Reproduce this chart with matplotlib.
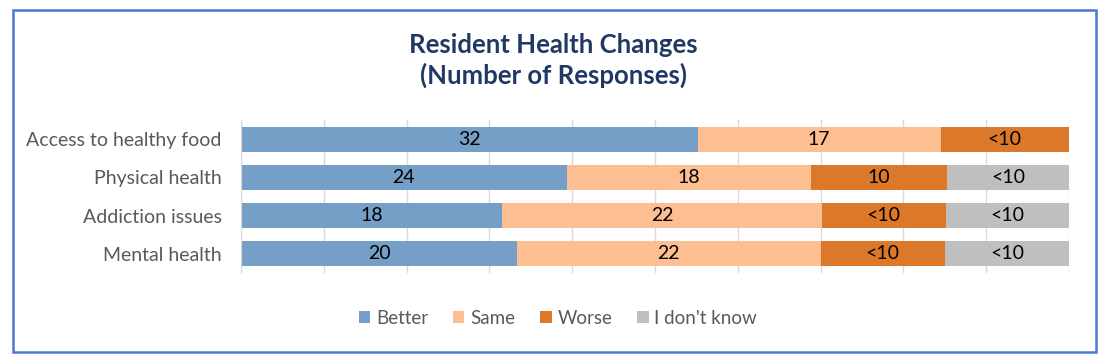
import matplotlib
matplotlib.use("Agg")
import matplotlib.pyplot as plt
from matplotlib.patches import Patch, Rectangle
import numpy as np

categories = ["Access to healthy food", "Physical health", "Addiction issues", "Mental health"]
series_names = ["Better", "Same", "Worse", "I don't know"]
better = [32, 24, 18, 20]
same = [17, 18, 22, 22]
worse = [9, 10, 8.5, 9]
dont_know = [0, 9, 8.5, 9]
# Labels as shown on the chart (small counts are suppressed as "<10")
better_labels = ["32", "24", "18", "20"]
same_labels = ["17", "18", "22", "22"]
worse_labels = ["<10", "10", "<10", "<10"]
dont_know_labels = ["", "<10", "<10", "<10"]

colors = ["#769FC7", "#FDBF92", "#DB7829", "#BFBFBF"]

plt.rcParams['font.family'] = ['Lato', 'DejaVu Sans']

W, H = 1104, 361
fig = plt.figure(figsize=(W / 100, H / 100), dpi=100)
ax = fig.add_axes([241 / W, 1 - 273 / H, (1069 - 241) / W, (273 - 120) / H])

data = np.array([better, same, worse, dont_know], dtype=float)
labels = [better_labels, same_labels, worse_labels, dont_know_labels]
totals = data.sum(axis=0)
pct = data / totals * 100

y = np.arange(len(categories))
left = np.zeros(len(categories))
for i, name in enumerate(series_names):
    bars = ax.barh(y, pct[i], left=left, height=0.66, color=colors[i], label=name, zorder=3)
    for j, b in enumerate(bars):
        if labels[i][j]:
            ax.text(left[j] + pct[i][j] / 2, y[j], labels[i][j], ha='center', va='center',
                    fontsize=14, color='#000000', zorder=4)
    left += pct[i]

ax.set_xlim(0, 100)
ax.set_ylim(len(categories) - 0.5, -0.5)
ax.set_xticks(np.arange(0, 101, 10))
ax.set_xticklabels([])
ax.tick_params(axis='x', length=0)
ax.tick_params(axis='y', length=0, pad=14, labelsize=14, labelcolor='#595959')
ax.set_yticks(y)
ax.set_yticklabels(categories)
ax.grid(axis='x', color='#D9D9D9', linewidth=1, zorder=0)
for s in ['top', 'right', 'bottom']:
    ax.spines[s].set_visible(False)
ax.spines['left'].set_color('#D9D9D9')
ax.spines['left'].set_zorder(5)

fig.text(553 / W, 1 - 45 / H, "Resident Health Changes", ha='center', va='center',
         fontsize=18.5, fontweight='bold', color='#1F3864')
fig.text(553 / W, 1 - 75 / H, "(Number of Responses)", ha='center', va='center',
         fontsize=18.5, fontweight='bold', color='#1F3864')

handles = [Patch(facecolor=c, edgecolor='none', label=n) for c, n in zip(colors, series_names)]
leg = fig.legend(handles=handles, loc='center', bbox_to_anchor=(558 / W, 1 - 318 / H), ncol=4,
                 frameon=False, fontsize=13.5, handlelength=0.6, handleheight=0.6,
                 handletextpad=0.3, columnspacing=1.35, labelcolor='#595959')

fig.patches.append(Rectangle((13 / W, 1 - 352 / H), (1096 - 13) / W, (352 - 10) / H,
                             transform=fig.transFigure, fill=False, edgecolor='#4A78D6',
                             linewidth=1.8, zorder=10))

fig.savefig("out.png", dpi=100)
